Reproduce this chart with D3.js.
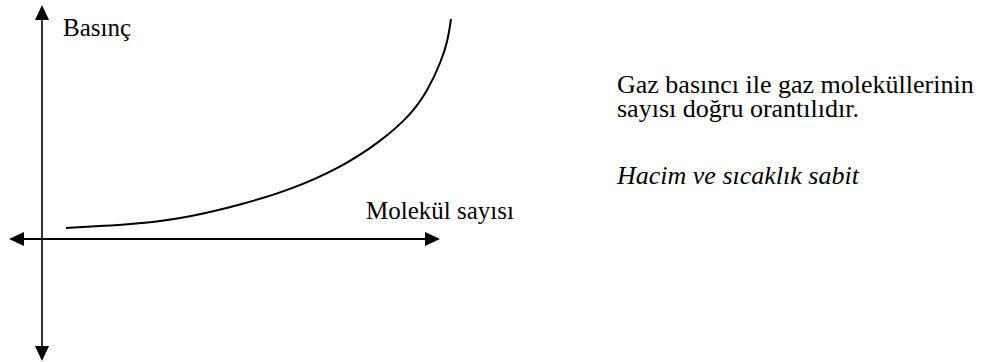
<!DOCTYPE html>
<html>
<head>
<meta charset="utf-8">
<script src="https://cdn.jsdelivr.net/npm/d3@7"></script>
<style>
  html, body { margin: 0; padding: 0; background: #fff; }
  svg { display: block; }
</style>
</head>
<body>
<svg id="chart" width="991" height="362"></svg>
<script>
// Data (abstract units)
const molecules = [24, 98, 148, 198, 248, 298, 338, 369, 386, 399, 406, 409];
const pressure  = [11, 15, 22, 34, 49, 71, 97, 124, 149, 177, 199, 220];
const axisLabels = ["Basınç", "Molekül sayısı"];
const noteLines = ["Gaz basıncı ile gaz moleküllerinin", "sayısı doğru orantılıdır."];
const noteItalic = "Hacim ve sıcaklık sabit";

const FONT = "'Liberation Serif'";
const BASE = 18; // font is picked at this size, then scaled

const svg = d3.select("#chart");
const x = d3.scaleLinear().domain([0, 400]).range([42, 442]);
const y = d3.scaleLinear().domain([0, 240]).range([239, -1]);

const xMin = -33, xMax = 398;
const yMin = -122, yMax = 234;
const ah = 15, aw = 7;

const g = svg.append("g");
g.append("line")
  .attr("x1", x(xMin) + ah).attr("x2", x(xMax) - ah)
  .attr("y1", y(0)).attr("y2", y(0))
  .attr("stroke", "#000").attr("stroke-width", 2);
g.append("line")
  .attr("x1", x(0)).attr("x2", x(0))
  .attr("y1", y(yMax) + ah).attr("y2", y(yMin) - ah)
  .attr("stroke", "#000").attr("stroke-width", 1.6);

const heads = [
  [[x(xMax), y(0)], [x(xMax) - ah, y(0) - aw], [x(xMax) - ah, y(0) + aw]],
  [[x(xMin), y(0)], [x(xMin) + ah, y(0) - aw], [x(xMin) + ah, y(0) + aw]],
  [[x(0), y(yMax)], [x(0) - aw, y(yMax) + ah], [x(0) + aw, y(yMax) + ah]],
  [[x(0), y(yMin)], [x(0) - aw, y(yMin) - ah], [x(0) + aw, y(yMin) - ah]]
];
g.selectAll("path.head").data(heads).join("path")
  .attr("class", "head")
  .attr("d", d => "M" + d.map(p => p.join(",")).join("L") + "Z")
  .attr("fill", "#000");

const pts = molecules.map((m, i) => [m, pressure[i]]);
const line = d3.line().x(d => x(d[0])).y(d => y(d[1])).curve(d3.curveBasis);
g.append("path")
  .attr("d", line(pts))
  .attr("fill", "none")
  .attr("stroke", "#000")
  .attr("stroke-width", 2);

function label(px, py, size) {
  return g.append("text")
    .attr("transform", `translate(${px},${py}) scale(${size / BASE})`)
    .attr("font-family", FONT).attr("font-size", BASE);
}
label(63, 36, 25).text(axisLabels[0]);
label(366, 219, 25).text(axisLabels[1]);

const para = label(617, 93, 26);
para.selectAll("tspan").data(noteLines).join("tspan")
  .attr("x", 0).attr("dy", (d, i) => i === 0 ? 0 : 24 * BASE / 26)
  .text(d => d);
label(617, 184, 26).attr("font-style", "italic").text(noteItalic);
</script>
</body>
</html>
